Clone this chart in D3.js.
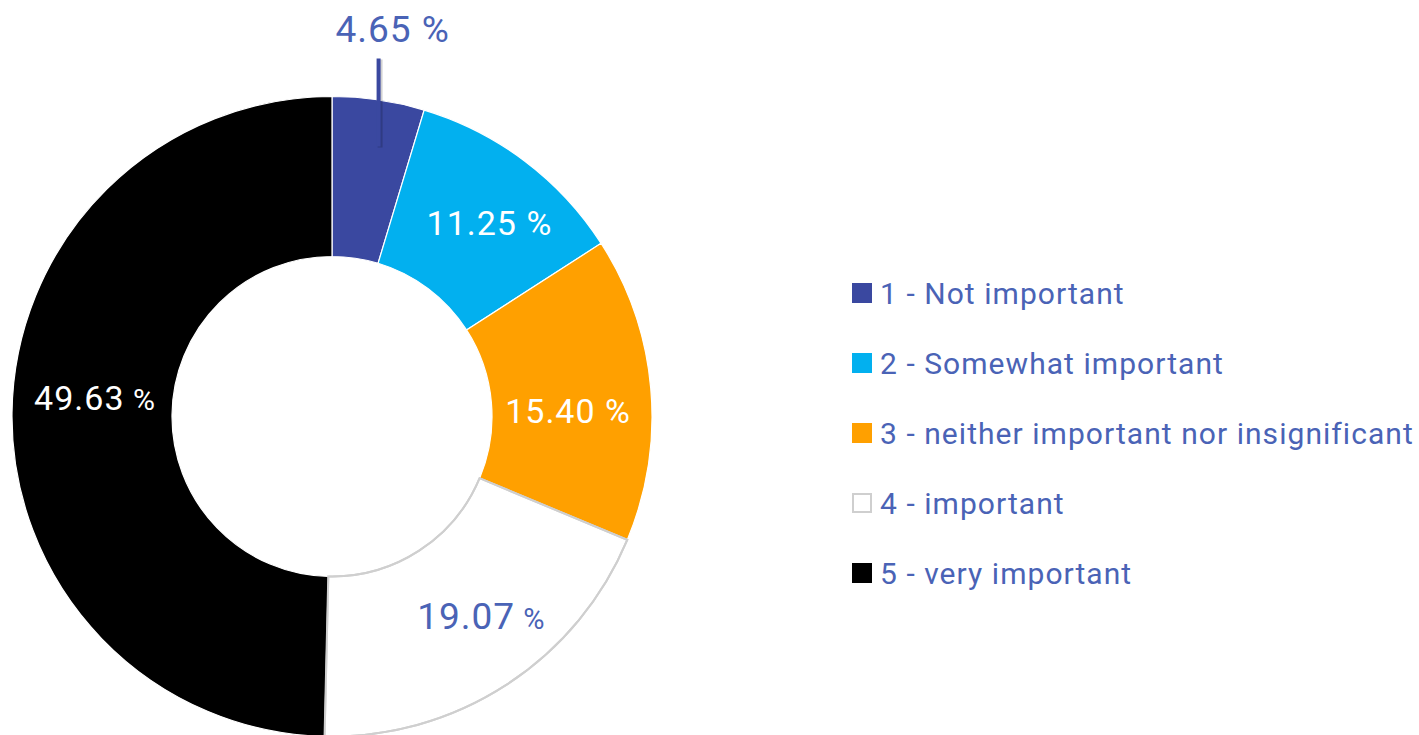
<!DOCTYPE html>
<meta charset="utf-8">
<style>
body{ margin:0; background:#fff; }
text{ font-family: Roboto, "Noto Sans", sans-serif; }
</style>
<body>
<div id="chart"></div>
<script src="https://cdn.jsdelivr.net/npm/d3@7"></script>
<script>
// donut: share of answers per importance level
var categories = ["1 - Not important", "2 - Somewhat important", "3 - neither important nor insignificant", "4 - important", "5 - very important"];
var values = [4.65, 11.25, 15.40, 19.07, 49.63];
var sliceColors = ["#3a48a0", "#02b0ef", "#ffa000", "#ffffff", "#000000"];
var labelColors = ["#4a63b6", "#ffffff", "#ffffff", "#4a63b6", "#ffffff"];

var width = 1419, height = 735;
var cx = 332, cy = 416.5;
var outerR = 320, innerR = 160;
var blue = "#4a63b6";

var svg = d3.select("#chart").append("svg").attr("width", width).attr("height", height);

var pie = d3.pie().sort(null).value(function(d){ return d; });
var arcs = pie(values);
var arc = d3.arc().innerRadius(innerR).outerRadius(outerR);
var labelArc = d3.arc().innerRadius(245).outerRadius(245);

var g = svg.append("g").attr("transform", "translate(" + cx + "," + cy + ")");

g.selectAll("path.slice")
	.data(arcs).enter()
	.append("path").attr("class","slice")
	.attr("d", arc)
	.attr("fill", function(d,i){ return sliceColors[i]; })
	.attr("stroke", function(d,i){ return i == 3 ? "#cfcfcf" : "#ffffff"; })
	.attr("stroke-width", function(d,i){ return i == 3 ? 2 : 1.2; });

// redraw the white slice outline on top so its grey edge shows over neighbours
g.append("path").datum(arcs[3]).attr("d", arc)
	.attr("fill", "none").attr("stroke", "#cfcfcf").attr("stroke-width", 2);

// leader line for the small first slice (with a soft shadow line under it)
var a0 = arcs[0];
var mid0 = (a0.startAngle + a0.endAngle) / 2;
var lx = outerR * Math.sin(mid0);
g.append("line")
	.attr("x1", lx + 1.5).attr("x2", lx + 1.5)
	.attr("y1", -outerR + 51).attr("y2", -outerR - 37)
	.attr("stroke", "#000").attr("stroke-opacity", 0.18).attr("stroke-width", 5);
g.append("line")
	.attr("x1", lx).attr("x2", lx)
	.attr("y1", -outerR + 50).attr("y2", -outerR - 38)
	.attr("stroke", sliceColors[0]).attr("stroke-width", 4);

// label sizes / nudges (style only)
var numSize = [37, 34, 34, 37, 34];
var pctSize = [37, 34, 34, 29, 30];
var nudge = [[0,0],[10,2],[-8,16],[16,-5],[8,-16]];

var labels = g.selectAll("text.lbl")
	.data(arcs).enter()
	.append("text").attr("class","lbl")
	.attr("text-anchor","middle")
	.style("letter-spacing", "1px")
	.attr("fill", function(d,i){ return labelColors[i]; })
	.attr("transform", function(d,i){
		if(i == 0) return "translate(" + (lx + 14) + "," + (-outerR - 55) + ")";
		var c = labelArc.centroid(d);
		return "translate(" + (c[0] + nudge[i][0]) + "," + (c[1] + nudge[i][1] + 12) + ")";
	});
labels.append("tspan")
	.style("font-size", function(d,i){ return numSize[i] + "px"; })
	.text(function(d){ return d.data.toFixed(2); });
labels.append("tspan")
	.style("font-size", function(d,i){ return pctSize[i] + "px"; })
	.text(" %");

// legend
var legend = svg.append("g").attr("transform", "translate(852,293)");
var item = legend.selectAll("g.item")
	.data(categories).enter()
	.append("g").attr("class","item")
	.attr("transform", function(d,i){ return "translate(0," + (i*70) + ")"; });
item.append("rect")
	.attr("x", function(d,i){ return i == 3 ? 1 : 0; })
	.attr("y", function(d,i){ return i == 3 ? -9 : -10; })
	.attr("width", function(d,i){ return i == 3 ? 18 : 20; })
	.attr("height", function(d,i){ return i == 3 ? 18 : 20; })
	.attr("fill", function(d,i){ return sliceColors[i]; })
	.attr("stroke", function(d,i){ return i == 3 ? "#cfcfcf" : "none"; })
	.attr("stroke-width", 2);
item.append("text")
	.attr("x", 28).attr("y", 11)
	.attr("fill", blue)
	.style("font-size", "30px")
	.style("letter-spacing", "1.05px")
	.text(function(d){ return d; });
</script>
</body>
